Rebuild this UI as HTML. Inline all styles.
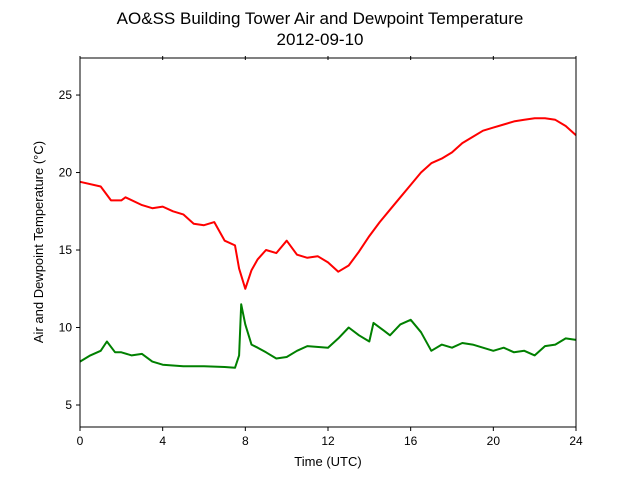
<!DOCTYPE html>
<html><head><meta charset="utf-8"><style>
body{margin:0;background:#fff;}
svg{display:block;font-family:"Liberation Sans","DejaVu Sans",sans-serif;}
</style></head><body>
<svg id="chart" width="640" height="480">
<rect width="640" height="480" fill="#fff"/>
<text x="320" y="24" text-anchor="middle" font-size="17">AO&amp;SS Building Tower Air and Dewpoint Temperature</text>
<text x="320" y="45" text-anchor="middle" font-size="17">2012-09-10</text>
<g id="plot"></g>
<rect x="80" y="58" width="496" height="369" fill="none" stroke="#000" stroke-width="1"/>
<text x="328" y="466" text-anchor="middle" font-size="13">Time (UTC)</text>
<text transform="translate(43,242) rotate(-90)" text-anchor="middle" font-size="13">Air and Dewpoint Temperature (°C)</text>
</svg>
<script>
const airHours=[0,1,1.5,2,2.2,3,3.5,4,4.5,5,5.5,6,6.5,7,7.5,7.7,8,8.3,8.6,9,9.5,10,10.5,11,11.5,12,12.5,13,13.5,14,14.5,15,15.5,16,16.5,17,17.5,18,18.5,19,19.5,20,20.5,21,21.5,22,22.5,23,23.5,24];
const airTemp=[19.4,19.1,18.2,18.2,18.4,17.9,17.7,17.8,17.5,17.3,16.7,16.6,16.8,15.6,15.3,13.8,12.5,13.7,14.4,15.0,14.8,15.6,14.7,14.5,14.6,14.2,13.6,14.0,14.9,15.9,16.8,17.6,18.4,19.2,20.0,20.6,20.9,21.3,21.9,22.3,22.7,22.9,23.1,23.3,23.4,23.5,23.5,23.4,23.0,22.4];
const dewHours=[0,0.5,1,1.3,1.7,2,2.5,3,3.5,4,5,6,7,7.5,7.7,7.8,8,8.3,8.6,9,9.5,10,10.5,11,12,12.5,13,13.5,14,14.2,14.7,15,15.5,16,16.5,17,17.5,18,18.5,19,19.5,20,20.5,21,21.5,22,22.5,23,23.5,24];
const dewTemp=[7.8,8.2,8.5,9.1,8.4,8.4,8.2,8.3,7.8,7.6,7.5,7.5,7.45,7.4,8.2,11.5,10.2,8.9,8.7,8.4,8.0,8.1,8.5,8.8,8.7,9.3,10.0,9.5,9.1,10.3,9.8,9.5,10.2,10.5,9.7,8.5,8.9,8.7,9.0,8.9,8.7,8.5,8.7,8.4,8.5,8.2,8.8,8.9,9.3,9.2];
const xTicks=[0,4,8,12,16,20,24];
const yTicks=[5,10,15,20,25];
const X0=80,X1=576,Y0=427,Y1=58,xmin=0,xmax=24,ymin=3.58,ymax=27.39;
const sx=v=>X0+(v-xmin)/(xmax-xmin)*(X1-X0);
const sy=v=>Y0-(v-ymin)/(ymax-ymin)*(Y0-Y1);
const NS='http://www.w3.org/2000/svg';
const g=document.getElementById('plot');
function mk(t,a){const e=document.createElementNS(NS,t);for(const k in a)e.setAttribute(k,a[k]);g.appendChild(e);return e;}
xTicks.forEach(v=>{
 const t=mk('line',{x1:sx(v),x2:sx(v),y1:Y0,y2:Y0+4,stroke:'#000'});
 
 
 const t2=mk('line',{x1:sx(v),x2:sx(v),y1:Y1-2,y2:Y1+2,stroke:'#000'});
 
 
 const l=mk('text',{x:sx(v),y:Y0+18,'text-anchor':'middle','font-size':12});
 l.textContent=v;
 
 
});
yTicks.forEach(v=>{
 const t=mk('line',{x1:X0-4,x2:X0,y1:sy(v),y2:sy(v),stroke:'#000'});
 
 
 const l=mk('text',{x:X0-8,y:sy(v)+4,'text-anchor':'end','font-size':12});
 l.textContent=v;
 
 
});
function line(xs,ys,color,name){
 const d=xs.map((x,i)=>(i?'L':'M')+sx(x).toFixed(1)+','+sy(ys[i]).toFixed(1)).join('');
 const p=mk('path',{d:d,fill:'none',stroke:color,'stroke-width':2,'stroke-linejoin':'round'});
 
 
}
line(airHours,airTemp,'#ff0000','air-temperature-line');
line(dewHours,dewTemp,'#008000','dewpoint-temperature-line');
</script>
</body></html>
